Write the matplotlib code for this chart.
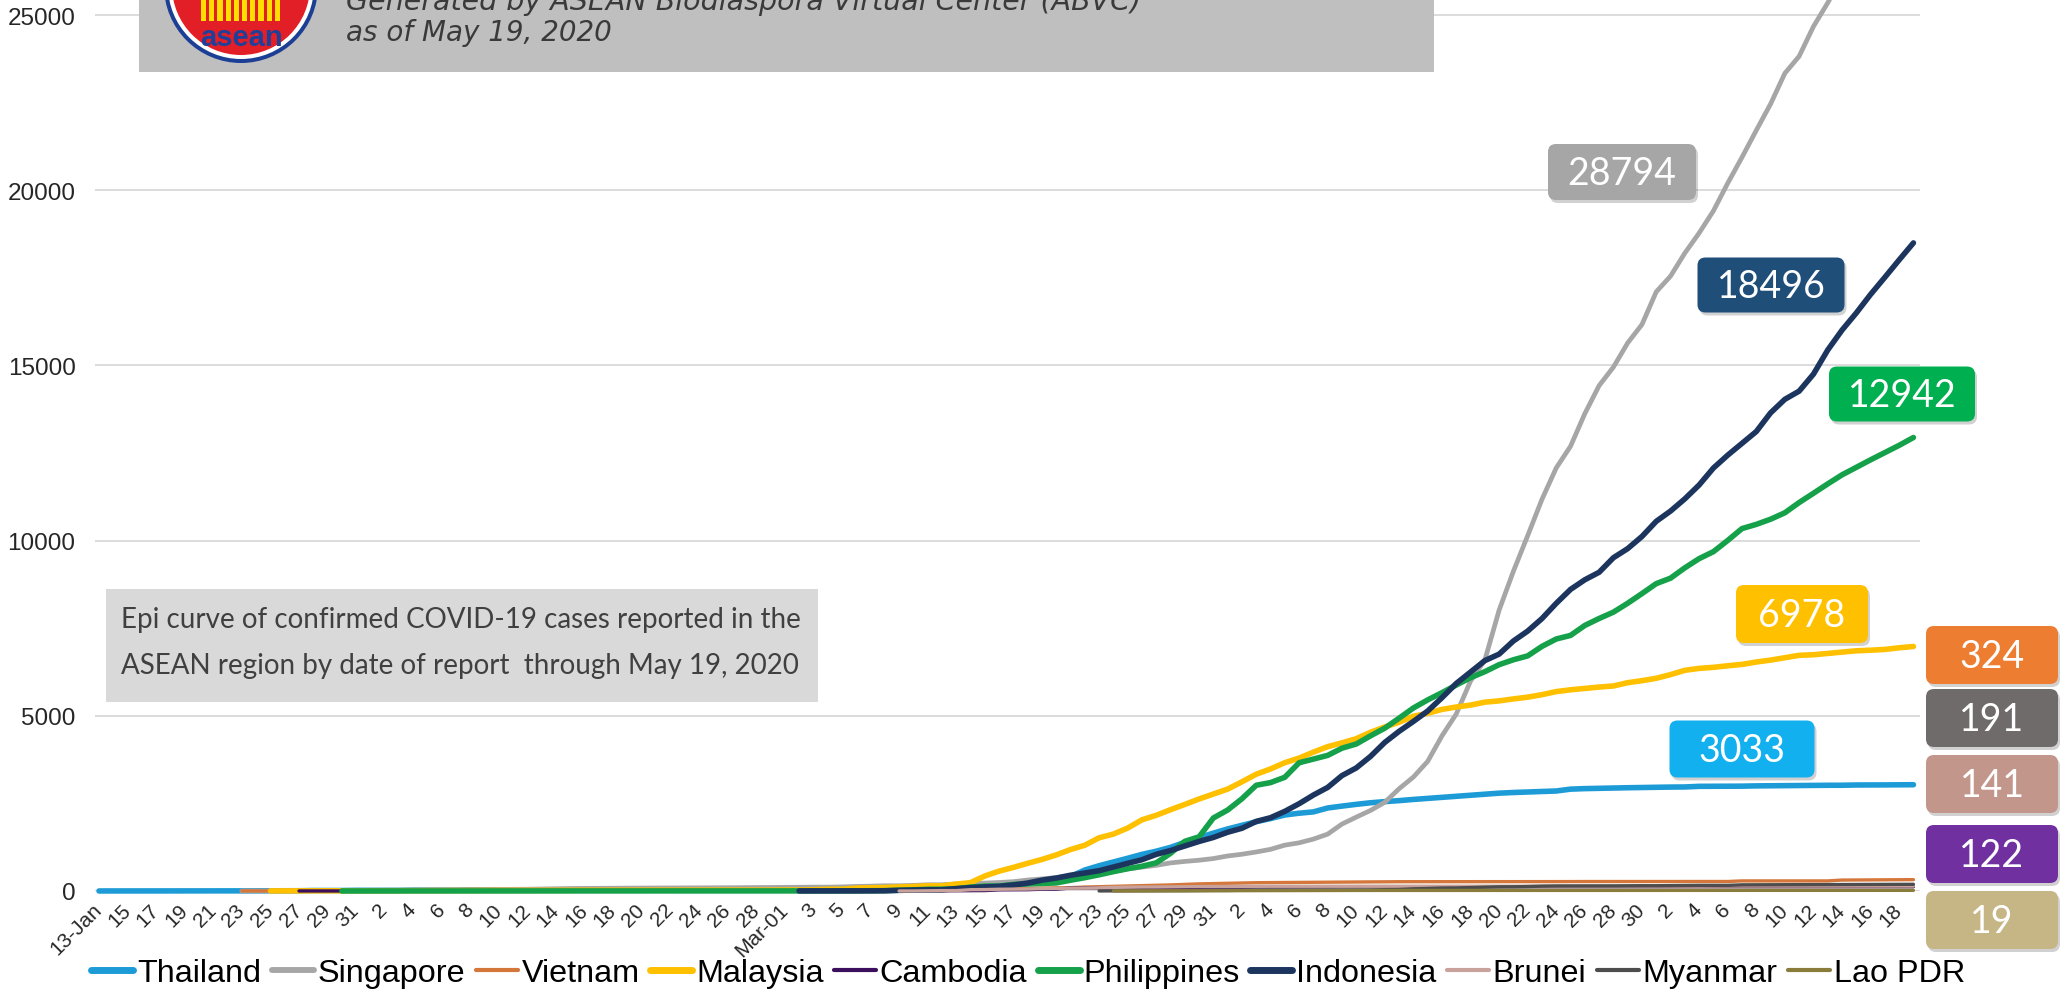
import numpy as np
import pandas as pd
import matplotlib
matplotlib.use("Agg")
import matplotlib.pyplot as plt
from matplotlib import font_manager
from matplotlib.patches import FancyBboxPatch, Rectangle, Circle
from matplotlib.lines import Line2D

# ---------------- data ----------------
first_day = "2020-01-13"
last_day = "2020-05-19"

countries = ["Thailand", "Singapore", "Vietnam", "Malaysia", "Cambodia",
             "Philippines", "Indonesia", "Brunei", "Myanmar", "Lao PDR"]

start_dates = {
    "Thailand": "2020-01-13", "Singapore": "2020-01-23", "Vietnam": "2020-01-23",
    "Malaysia": "2020-01-25", "Cambodia": "2020-01-27", "Philippines": "2020-01-30",
    "Indonesia": "2020-03-02", "Brunei": "2020-03-09", "Myanmar": "2020-03-23",
    "Lao PDR": "2020-03-24",
}

thailand = [1, 1, 1, 1, 2, 2, 2, 2, 2, 4, 4, 5, 7, 8, 8, 14, 14, 14, 19,
            19, 19, 19, 25, 25, 25, 25, 32, 32, 32, 33, 33, 33, 33, 34, 34, 35, 35, 35, 35, 35, 35, 35, 35, 37, 40, 40, 41, 42,
            42, 43, 43, 43, 47, 48, 50, 50, 50, 53, 59, 70, 75, 82, 114, 147, 177, 212, 272, 322, 411, 599, 721, 827, 934,
            1045, 1136, 1245, 1388, 1524, 1651,
            1771, 1875, 1978, 2067, 2169, 2220, 2258, 2369, 2423, 2473, 2518, 2551, 2579, 2613, 2643, 2672, 2700, 2733,
            2765, 2792, 2811, 2826, 2839, 2854, 2907, 2922, 2931, 2938, 2947, 2954,
            2960, 2966, 2969, 2987, 2988, 2989, 2992, 3000, 3004, 3009, 3015, 3017, 3017, 3018, 3025, 3025, 3028, 3031, 3033]

singapore = [1, 3, 3, 4, 5, 7, 7, 10, 13,
             16, 18, 18, 24, 28, 28, 30, 33, 40, 45, 47, 50, 58, 67, 72, 75, 77, 81, 84, 84, 85, 85, 89, 89, 91, 93, 96, 98, 102,
             106, 108, 110, 110, 117, 130, 138, 150, 150, 160, 178, 178, 200, 212, 226, 243, 266, 313, 345, 385, 432, 455,
             509, 558, 631, 683, 732, 802, 844, 879, 926,
             1000, 1049, 1114, 1189, 1309, 1375, 1481, 1623, 1910, 2108, 2299, 2532, 2918, 3252, 3699, 4427, 5050, 5992,
             6588, 8014, 9125, 10141, 11178, 12075, 12693, 13624, 14423, 14951, 15641, 16169,
             17101, 17548, 18205, 18778, 19410, 20198, 20939, 21707, 22460, 23336, 23822, 24671, 25346, 26098, 26891,
             27356, 28038, 28343, 28794]

vietnam = [2, 2, 2, 2, 2, 2, 2, 2, 2,
           6, 6, 8, 8, 10, 10, 12, 13, 14, 14, 15, 15, 16, 16, 16, 16, 16, 16, 16, 16, 16, 16, 16, 16, 16, 16, 16, 16, 16,
           16, 16, 16, 16, 16, 17, 18, 30, 31, 35, 39, 39, 47, 53, 56, 61, 66, 75, 85, 91, 94, 113, 123, 134, 141, 153,
           163, 174, 188, 203, 212,
           218, 233, 237, 240, 241, 245, 249, 251, 255, 257, 258, 262, 265, 265, 267, 268, 268, 268, 268, 268, 268, 268,
           268, 268, 270, 270, 270, 270, 270, 270,
           270, 271, 271, 271, 271, 271, 288, 288, 288, 288, 288, 288, 288, 312, 314, 318, 320, 320, 324]

malaysia = [3, 4, 4, 4, 7, 8, 8,
            8, 8, 8, 10, 12, 12, 14, 16, 16, 18, 18, 18, 19, 19, 22, 22, 22, 22, 22, 22, 22, 22, 22, 22, 22, 22, 23, 25, 25,
            29, 29, 36, 50, 50, 83, 93, 99, 117, 129, 149, 149, 197, 238, 428, 566, 673, 790, 900, 1030, 1183, 1306, 1518,
            1624, 1796, 2031, 2161, 2320, 2470, 2626, 2766,
            2908, 3116, 3333, 3483, 3662, 3793, 3963, 4119, 4228, 4346, 4530, 4683, 4817, 4987, 5072, 5182, 5251, 5305,
            5389, 5425, 5482, 5532, 5603, 5691, 5742, 5780, 5820, 5851, 5945, 6002,
            6071, 6176, 6298, 6353, 6383, 6428, 6467, 6535, 6589, 6656, 6726, 6742, 6779, 6819, 6855, 6872, 6894, 6941, 6978]

cambodia = [1, 1, 1, 1, 1,
            1, 1, 1, 1, 1, 1, 1, 1, 1, 1, 1, 1, 1, 1, 1, 1, 1, 1, 1, 1, 1, 1, 1, 1, 1, 1, 1, 1, 1,
            1, 1, 1, 1, 1, 1, 2, 2, 2, 3, 3, 5, 7, 7, 12, 33, 35, 37, 51, 53, 84, 84, 87, 91, 96, 96, 99, 103, 103, 107, 109,
            109, 110, 114, 114, 114, 115, 117, 117, 119, 120, 122, 122, 122, 122, 122, 122, 122, 122, 122, 122, 122, 122,
            122, 122, 122, 122, 122, 122, 122, 122,
            122, 122, 122, 122, 122, 122, 122, 122, 122, 122, 122, 122, 122, 122, 122, 122, 122, 122, 122]

philippines = [1, 1,
               1, 2, 2, 2, 3, 3, 3, 3, 3, 3, 3, 3, 3, 3, 3, 3, 3, 3, 3, 3, 3, 3, 3, 3, 3, 3, 3, 3, 3,
               3, 3, 3, 3, 3, 5, 6, 10, 20, 33, 49, 52, 64, 111, 140, 142, 187, 202, 217, 230, 307, 380, 462, 552, 636,
               707, 803, 1075, 1418, 1546, 2084,
               2311, 2633, 3018, 3094, 3246, 3660, 3764, 3870, 4076, 4195, 4428, 4648, 4932, 5223, 5453, 5660, 5878, 6087,
               6259, 6459, 6599, 6710, 6981, 7192, 7294, 7579, 7777, 7958, 8212, 8488,
               8772, 8928, 9223, 9485, 9684, 10004, 10343, 10463, 10610, 10794, 11086, 11350, 11618, 11876, 12091, 12305,
               12513, 12718, 12942]

indonesia = [2, 2, 2, 2, 4, 4, 6, 19, 27, 34, 34, 69, 96, 117, 134, 172, 227, 309, 369, 450, 514, 579, 686, 790, 893,
             1046, 1155, 1285, 1414, 1528,
             1677, 1790, 1986, 2092, 2273, 2491, 2738, 2956, 3293, 3512, 3842, 4241, 4557, 4839, 5136, 5516, 5923, 6248,
             6575, 6760, 7135, 7418, 7775, 8211, 8607, 8882, 9096, 9511, 9771, 10118,
             10551, 10843, 11192, 11587, 12071, 12438, 12776, 13112, 13645, 14032, 14265, 14749, 15438, 16006, 16496,
             17025, 17514, 18010, 18496]

brunei = [1, 1, 6, 11, 11, 37, 40, 50, 54, 56, 68, 75, 78, 83, 91, 104, 109, 114, 115, 120, 126, 127, 129,
          131, 133, 134, 135, 135, 135, 135, 135, 135, 136, 136, 136, 136, 136, 136, 136, 136, 137, 138, 138, 138, 138,
          138, 138, 138, 138, 138, 138, 138, 138,
          138, 138, 138, 138, 141, 141, 141, 141, 141, 141, 141, 141, 141, 141, 141, 141, 141, 141, 141]

myanmar = [2, 3, 3, 5, 8, 8, 10, 14, 15,
           15, 20, 20, 21, 21, 22, 22, 22, 23, 27, 28, 39, 41, 62, 74, 85, 88, 98, 111, 119, 121, 127, 139, 144, 144,
           146, 146, 146, 150, 151,
           151, 155, 161, 161, 161, 161, 176, 177, 178, 178, 180, 180, 180, 181, 182, 182, 184, 187, 191]

lao = [2, 3, 6, 6, 8, 8, 8, 9,
       10, 10, 10, 11, 11, 12, 15, 16, 16, 16, 16, 19, 19, 19, 19, 19, 19, 19, 19, 19, 19, 19, 19, 19, 19, 19, 19, 19,
       19, 19,
       19, 19, 19, 19, 19, 19, 19, 19, 19, 19, 19, 19, 19, 19, 19, 19, 19, 19, 19]

values = {"Thailand": thailand, "Singapore": singapore, "Vietnam": vietnam, "Malaysia": malaysia,
          "Cambodia": cambodia, "Philippines": philippines, "Indonesia": indonesia, "Brunei": brunei,
          "Myanmar": myanmar, "Lao PDR": lao}

tick_labels = (["13-Jan", "15", "17", "19", "21", "23", "25", "27", "29", "31"] +
               ["2", "4", "6", "8", "10", "12", "14", "16", "18", "20", "22", "24", "26", "28"] +
               ["Mar-01", "3", "5", "7", "9", "11", "13", "15", "17", "19", "21", "23", "25", "27", "29", "31"] +
               ["2", "4", "6", "8", "10", "12", "14", "16", "18", "20", "22", "24", "26", "28", "30"] +
               ["2", "4", "6", "8", "10", "12", "14", "16", "18"])

# ---------------- styles ----------------
line_colors = {"Thailand": "#1d9bd7", "Singapore": "#a6a6a6", "Vietnam": "#d5763a", "Malaysia": "#ffc000",
               "Cambodia": "#3b0f5e", "Philippines": "#15a04a", "Indonesia": "#1c355e", "Brunei": "#c9a39b",
               "Myanmar": "#4d4d4d", "Lao PDR": "#8a7d3c"}
line_widths = {"Thailand": 4.0, "Singapore": 3.4, "Vietnam": 2.4, "Malaysia": 4.0, "Cambodia": 2.4,
               "Philippines": 4.0, "Indonesia": 4.0, "Brunei": 2.4, "Myanmar": 2.4, "Lao PDR": 2.4}

avail = {f.name for f in font_manager.fontManager.ttflist}
NARROW = "Liberation Sans Narrow" if "Liberation Sans Narrow" in avail else "Liberation Sans"
narrow_ok = NARROW == "Liberation Sans Narrow"
LBL = "Lato" if "Lato" in avail else "DejaVu Sans"

W, H = 2069, 995
fig = plt.figure(figsize=(W / 100, H / 100), dpi=100)
fig.patch.set_facecolor("white")

dates = pd.date_range(first_day, last_day, freq="D")
ax = fig.add_axes([95 / W, 1 - 892 / H, (1920 - 95) / W, 892 / H])
x = np.arange(len(dates))

for name in countries:
    vals = np.full(len(dates), np.nan)
    s = dates.get_loc(pd.Timestamp(start_dates[name]))
    v = values[name]
    vals[s:s + len(v)] = v
    ax.plot(x, vals, color=line_colors[name], lw=line_widths[name], solid_capstyle="round",
            solid_joinstyle="round", clip_on=False, zorder=3)

ax.set_xlim(-0.28, 127.46)
ax.set_ylim(0, 892 / 175.2 * 5000)
ax.set_yticks(np.arange(0, 25001, 5000))
ax.yaxis.grid(True, color="#d9d9d9", lw=1.3)
ax.set_axisbelow(True)
for sp in ax.spines.values():
    sp.set_visible(False)
ax.tick_params(axis="y", length=0, pad=14, labelsize=20 if narrow_ok else 17.5, labelcolor="#262626")
for t in ax.get_yticklabels():
    t.set_family(NARROW)
ax.set_xticks(x[::2])
ax.set_xticklabels(tick_labels, rotation=45, ha="right", va="center", rotation_mode="anchor",
                   fontsize=16 if narrow_ok else 15, color="#262626", family=NARROW)
ax.tick_params(axis="x", length=0, pad=11)

handles = [Line2D([], [], color=line_colors[n], lw=line_widths[n] * 1.25, solid_capstyle="round") for n in countries]
fig.legend(handles, countries, loc="center", bbox_to_anchor=(0.497, 0.021), ncol=10, frameon=False,
           prop={"family": NARROW, "size": 26 if narrow_ok else 23.3}, handlelength=1.3, handletextpad=0.12,
           columnspacing=0.32, borderpad=0.1)

# ---------------- overlay (pixel coordinates) ----------------
ov = fig.add_axes([0, 0, 1, 1], zorder=10)
ov.set_xlim(0, W)
ov.set_ylim(H, 0)
ov.axis("off")

# title box with logo
ov.add_patch(Rectangle((139, -20), 1434 - 139, 93, color="#bfbfbf", lw=0))
ov.add_patch(Circle((241, -13), 77, color="#1c3f95", lw=0))
ov.add_patch(Circle((241, -13), 73, color="white", lw=0))
ov.add_patch(Circle((241, -13), 69, color="#e21f26", lw=0))
for i in range(10):
    ov.add_patch(Rectangle((201 + i * 8.2, -10), 5.2, 32, color="#ffde00", lw=0))
ov.text(241, 38, "asean", ha="center", va="center", fontsize=21, weight="bold", color="#1f3f99",
        family="Liberation Sans")
ov.text(346, 10, "Generated by ASEAN Biodiaspora Virtual Center (ABVC)", ha="left", va="baseline",
        fontsize=20.5, style="italic", color="#3a3a3a", family="DejaVu Sans")
ov.text(346, 41, "as of May 19, 2020", ha="left", va="baseline", fontsize=20, style="italic",
        color="#3a3a3a", family="DejaVu Sans")

# epi curve note
ov.add_patch(Rectangle((106, 590), 712, 113, color="#d9d9d9", lw=0))
ov.text(121, 620, "Epi curve of confirmed COVID-19 cases reported in the", ha="left", va="center",
        fontsize=20, color="#404040", family=LBL)
ov.text(121, 666, "ASEAN region by date of report  through May 19, 2020", ha="left", va="center",
        fontsize=20, color="#404040", family=LBL)


def label_box(cx, cy, w, h, text, color):
    r = 8
    ov.add_patch(FancyBboxPatch((cx - w / 2 + r + 2, cy - h / 2 + r + 3), w - 2 * r, h - 2 * r,
                                boxstyle=f"round,pad={r},rounding_size={r}", color="#000000", alpha=0.18, lw=0))
    ov.add_patch(FancyBboxPatch((cx - w / 2 + r, cy - h / 2 + r), w - 2 * r, h - 2 * r,
                                boxstyle=f"round,pad={r},rounding_size={r}", color=color, lw=0))
    ov.text(cx, cy + 1, text, ha="center", va="center", color="white", fontsize=27, family=LBL)


end_value = {n: values[n][-1] for n in countries}
label_box(1622, 173, 148, 56, f"{end_value['Singapore']}", "#a6a6a6")
label_box(1771, 286, 147, 55, f"{end_value['Indonesia']}", "#1f4e79")
label_box(1902, 395, 146, 55, f"{end_value['Philippines']}", "#00b050")
label_box(1802, 615, 132, 58, f"{end_value['Malaysia']}", "#ffc000")
label_box(1742, 750, 145, 57, f"{end_value['Thailand']}", "#12b0ee")
label_box(1992, 656, 132, 58, f"{end_value['Vietnam']}", "#ed7d31")
label_box(1992, 719, 132, 58, f"{end_value['Myanmar']}", "#6f6b6a")
label_box(1992, 785, 132, 58, f"{end_value['Brunei']}", "#c3968c")
label_box(1992, 855, 132, 58, f"{end_value['Cambodia']}", "#7030a0")
label_box(1992, 921, 132, 58, f"{end_value['Lao PDR']}", "#c6b585")

fig.savefig("out.png", dpi=100)
